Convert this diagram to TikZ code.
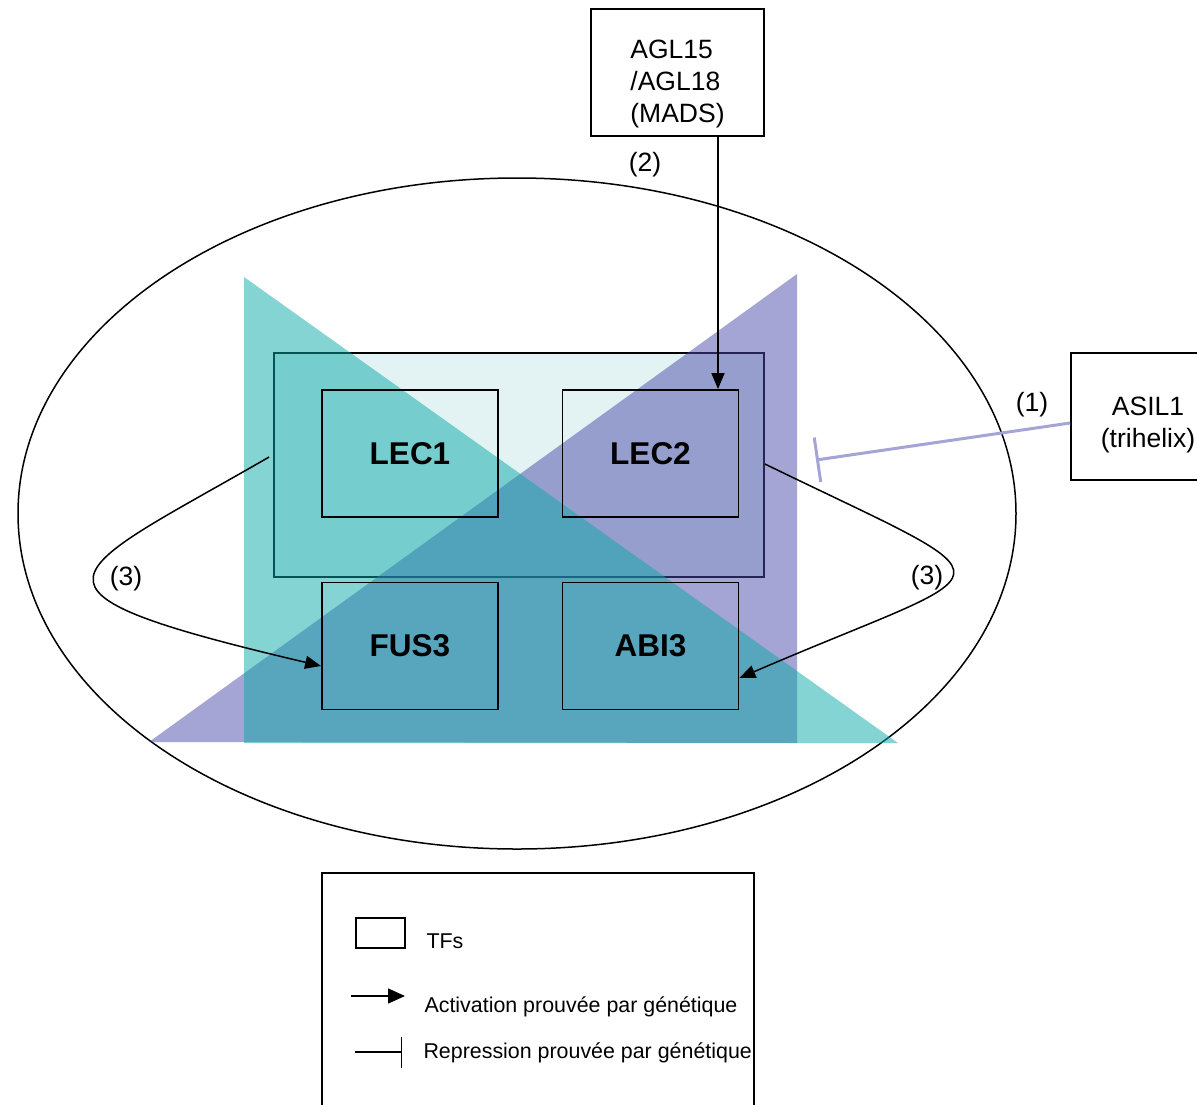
\documentclass[tikz,border=0pt]{standalone}
\usepackage{fontspec}
\setmainfont{Liberation Sans}
\usetikzlibrary{arrows.meta}

\definecolor{tealtri}{RGB}{11,169,169}
\definecolor{purpletri}{RGB}{75,75,171}
\definecolor{groupfill}{RGB}{227,243,243}
\definecolor{inhib}{RGB}{165,165,213}

\tikzset{
  tf/.style={draw, line width=1.8pt, minimum width=176pt, minimum height=127pt,
    font=\fontsize{31.5}{36}\selectfont\bfseries},
  side/.style={draw, line width=1.8pt, minimum height=127pt},
  sidetext/.style={align=center, font=\fontsize{26.5}{32}\selectfont},
  lbl/.style={font=\fontsize{26.5}{32}\selectfont},
  keytext/.style={anchor=base west, font=\fontsize{21.4}{25}\selectfont},
}

\begin{document}
\begin{tikzpicture}[x=1pt, y=-1pt, >={Triangle[length=16pt,width=13pt]}]
\useasboundingbox (0,0) rectangle (1197,1104);

\draw[line width=1.5pt] (517,513.5) ellipse [x radius=499, y radius=335.5];

\draw (519,465) node[draw, line width=1.8pt, fill=groupfill, minimum width=490pt, minimum height=224pt] (lecgroup) {};

\fill[purpletri, fill opacity=0.5] (149,742) -- (797,274) -- (797,743) -- cycle;
\fill[tealtri, fill opacity=0.5] (244,277) -- (244,743) -- (898,743) -- cycle;

\draw (410,453.5) node[tf] (lecone) {LEC1};
\draw (650.5,453.5) node[tf] (lectwo) {LEC2};
\draw (410,646) node[tf] (fus) {FUS3};
\draw (650.5,646) node[tf] (abi) {ABI3};

\draw (677.5,72.5) node[side, minimum width=173pt,
  label={[sidetext, align=left, yshift=-11pt]center:AGL15\\/AGL18\\(MADS)}] (agl) {};
\draw (1148,416.5) node[side, minimum width=154pt,
  label={[sidetext, yshift=-8pt]center:ASIL1\\(trihelix)}] (asil) {};

\draw (645,165) node[lbl] (numtwo) {(2)};
\draw (1032,405) node[lbl] (numone) {(1)};
\draw (126,579) node[lbl] (numthreel) {(3)};
\draw (927,578) node[lbl] (numthreer) {(3)};

\coordinate (asilbar) at (816,460);
\draw[->, line width=1.5pt] ([xshift=40.5pt]agl.south) -- ([xshift=67.5pt]lectwo.north);
\draw[-{Bar[width=45pt]}, inhib, line width=3pt] ([yshift=-6.5pt]asil.west) -- (asilbar);
\draw[->, line width=1.5pt] ([xshift=-4pt,yshift=8pt]lecgroup.west) .. controls (63,576) and (-6,589) .. ([yshift=-20pt]fus.west);
\draw[->, line width=1.5pt] ([yshift=1pt]lecgroup.east) .. controls (1026,591) and (1011,561) .. ([yshift=-32pt]abi.east);

% legende
\draw (538,996.5) node[draw, line width=1.8pt, minimum width=432pt, minimum height=247pt] (legend) {};
\draw (380.5,933) node[draw, line width=1.8pt, minimum width=49pt, minimum height=30pt] (tfkey) {};
\draw (423,948) node[keytext] (tfkeytext) {TFs};
\coordinate (acta) at (351,996);
\coordinate (actb) at (405,996);
\draw[-{Triangle[length=17pt,width=15pt]}, line width=1.5pt] (acta) -- (actb);
\draw (421,1012) node[keytext] (acttext) {Activation prouvée par génétique};
\coordinate (repa) at (355,1052);
\coordinate (repb) at (402,1052);
\draw[-{Bar[width=31pt]}, line width=1.5pt] (repa) -- (repb);
\draw (420,1058) node[keytext] (reptext) {Repression prouvée par génétique};

\end{tikzpicture}
\end{document}
